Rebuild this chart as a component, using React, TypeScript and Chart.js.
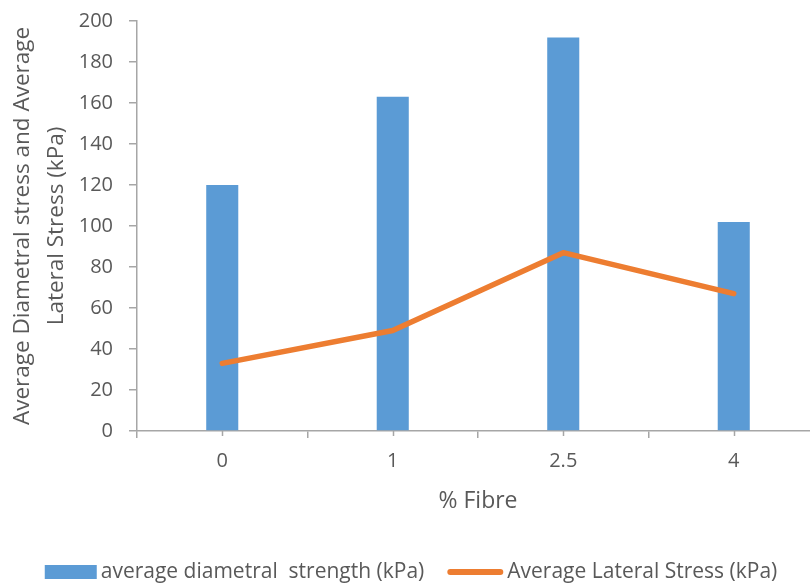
import React, { useEffect, useRef } from "react";
import { Chart, registerables } from "chart.js";

Chart.register(...registerables);

const categories = ["0", "1", "2.5", "4"];
const diametralStrength = [120, 163, 192, 102];
const lateralStress = [33, 49, 87, 67];
const seriesLabels = ["average diametral  strength (kPa)", "Average Lateral Stress (kPa)"];
const xTitle = "% Fibre";
const yTitle = ["Average Diametral stress and Average", "Lateral Stress (kPa)"];
const yMin = 0;
const yMax = 200;
const yStep = 20;

const FONT = "'Open Sans', sans-serif";
const TEXT = "#595959";
const AXIS = "#a6a6a6";
const BLUE = "#5b9bd5";
const ORANGE = "#ed7d31";

const extrasPlugin = {
  id: "extras",
  afterDraw(chart: any) {
    const ctx = chart.ctx;
    const xs = chart.scales.x;
    ctx.save();
    // small marks under each category centre
    ctx.strokeStyle = AXIS;
    ctx.lineWidth = 1.5;
    for (let i = 0; i < categories.length; i++) {
      const x = Math.round(xs.getPixelForTick(i)) + 0.5;
      ctx.beginPath();
      ctx.moveTo(x, xs.top);
      ctx.lineTo(x, xs.top + 5);
      ctx.stroke();
    }
    // legend
    ctx.font = `21px ${FONT}`;
    ctx.textBaseline = "middle";
    ctx.textAlign = "left";
    const boxW = 52;
    const lineW = 56;
    const gapIn = 4;
    const gapOut = 23;
    const w0 = ctx.measureText(seriesLabels[0]).width;
    const w1 = ctx.measureText(seriesLabels[1]).width;
    const total = boxW + gapIn + w0 + gapOut + lineW + gapIn + w1;
    const cy = 572;
    let x = chart.width / 2 - 4 - total / 2;
    ctx.fillStyle = BLUE;
    ctx.fillRect(x, cy - 7, boxW, 14);
    x += boxW + gapIn;
    ctx.fillStyle = TEXT;
    ctx.fillText(seriesLabels[0], x, cy);
    x += w0 + gapOut;
    ctx.strokeStyle = ORANGE;
    ctx.lineWidth = 6;
    ctx.lineCap = "round";
    ctx.beginPath();
    ctx.moveTo(x + 3, cy);
    ctx.lineTo(x + lineW - 3, cy);
    ctx.stroke();
    x += lineW + gapIn;
    ctx.fillStyle = TEXT;
    ctx.fillText(seriesLabels[1], x, cy);
    ctx.restore();
  },
};

export default function App() {
  const ref = useRef<HTMLCanvasElement | null>(null);
  useEffect(() => {
    if (!ref.current) return;
    const chart = new Chart(ref.current, {
      type: "bar",
      data: {
        labels: categories,
        datasets: [
          {
            type: "bar",
            label: seriesLabels[0],
            data: diametralStrength,
            backgroundColor: BLUE,
            borderWidth: 0,
            categoryPercentage: 1,
            barPercentage: 0.188,
            order: 2,
          },
          {
            type: "line",
            label: seriesLabels[1],
            data: lateralStress,
            borderColor: ORANGE,
            backgroundColor: ORANGE,
            borderWidth: 5.5,
            borderCapStyle: "round",
            borderJoinStyle: "round",
            pointRadius: 0,
            tension: 0,
            order: 1,
          },
        ],
      } as any,
      options: {
        animation: false,
        responsive: false,
        layout: { padding: { left: 0, right: 11, top: 21, bottom: 57 } },
        plugins: {
          legend: { display: false },
          tooltip: { enabled: false },
        },
        scales: {
          x: {
            offset: true,
            grid: {
              offset: true,
              drawOnChartArea: false,
              drawTicks: true,
              tickLength: 7,
              color: AXIS,
              lineWidth: 1.5,
            },
            border: { display: true, color: AXIS, width: 1.5 },
            ticks: { color: TEXT, font: { family: FONT, size: 20 }, padding: 11 },
            title: {
              display: true,
              text: xTitle,
              color: TEXT,
              font: { family: FONT, size: 23 },
              padding: { top: 0, bottom: 16 },
            },
            afterFit: (s: any) => {
              s.height = 100;
              s.paddingLeft = 0;
              s.paddingRight = 0;
            },
          },
          y: {
            min: yMin,
            max: yMax,
            grid: {
              drawOnChartArea: false,
              drawTicks: true,
              tickLength: 8,
              color: AXIS,
              lineWidth: 1.5,
            },
            border: { display: true, color: AXIS, width: 1.5 },
            ticks: {
              stepSize: yStep,
              color: TEXT,
              font: { family: FONT, size: 20 },
              padding: 16,
            },
            title: {
              display: true,
              text: yTitle,
              color: TEXT,
              font: { family: FONT, size: 22.5, lineHeight: 1.52 },
              padding: { top: 5, bottom: 0 },
            },
            afterFit: (s: any) => {
              s.width = 137;
              s.paddingTop = 0;
              s.paddingBottom = 0;
            },
          },
        },
      } as any,
      plugins: [extrasPlugin],
    });
    return () => chart.destroy();
  }, []);
  return (
    <div
      style={{
        position: "fixed",
        left: 0,
        top: 0,
        width: 810,
        height: 588,
        overflow: "hidden",
        background: "#fff",
      }}
    >
      <canvas ref={ref} width={830} height={588} style={{ display: "block" }} />
    </div>
  );
}
